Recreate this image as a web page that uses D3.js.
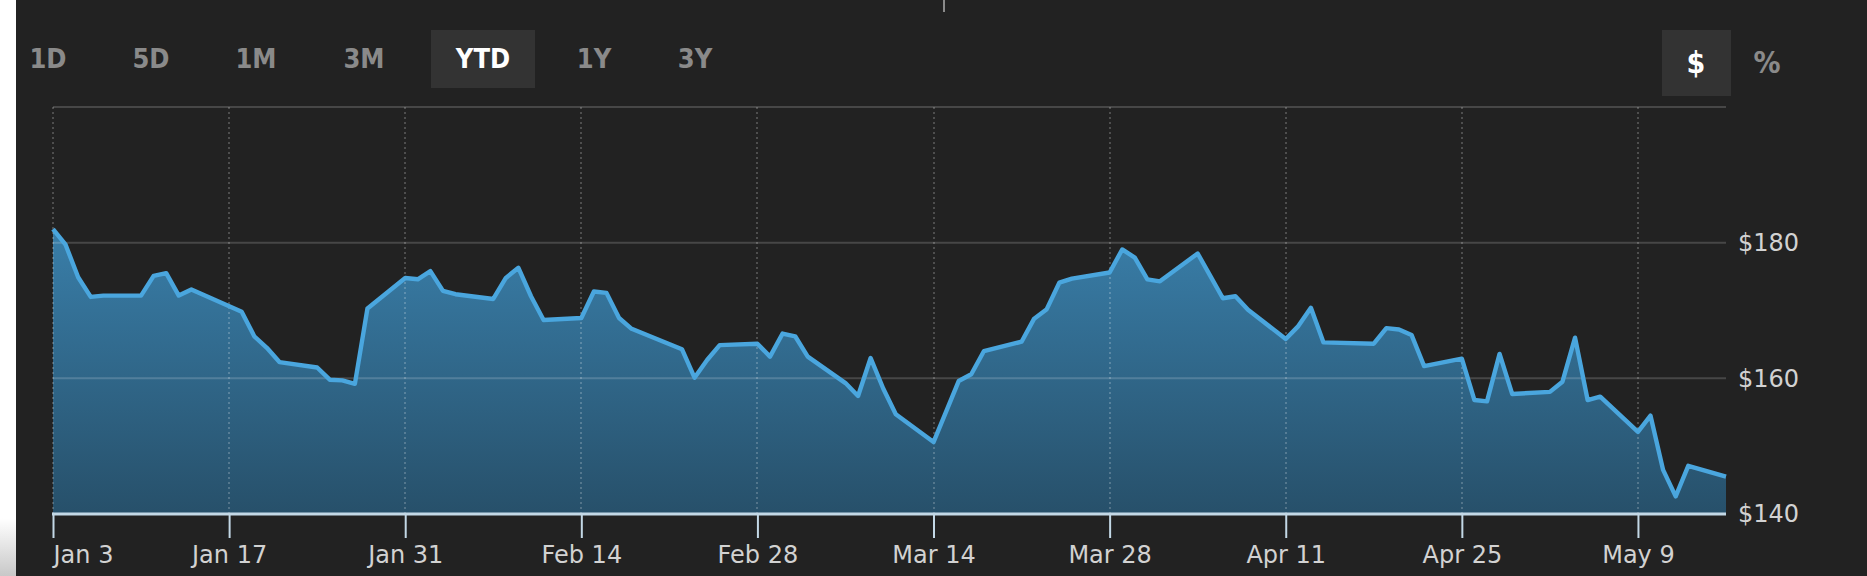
<!DOCTYPE html>
<html><head><meta charset="utf-8">
<script src="https://cdn.jsdelivr.net/npm/d3@7"></script>
<style>
html,body{margin:0;padding:0;background:#fff;}
svg{display:block;}
</style></head>
<body>
<svg id="chart" width="1867" height="576"></svg>
<script>
// ---- data ----
const dates = ["2022-01-03","2022-01-04","2022-01-05","2022-01-06","2022-01-07","2022-01-10","2022-01-11","2022-01-12","2022-01-13","2022-01-14",
"2022-01-18","2022-01-19","2022-01-20","2022-01-21","2022-01-24","2022-01-25","2022-01-26","2022-01-27","2022-01-28","2022-01-31",
"2022-02-01","2022-02-02","2022-02-03","2022-02-04","2022-02-07","2022-02-08","2022-02-09","2022-02-10","2022-02-11","2022-02-14",
"2022-02-15","2022-02-16","2022-02-17","2022-02-18","2022-02-22","2022-02-23","2022-02-24","2022-02-25","2022-02-28","2022-03-01",
"2022-03-02","2022-03-03","2022-03-04","2022-03-07","2022-03-08","2022-03-09","2022-03-10","2022-03-11","2022-03-14","2022-03-15",
"2022-03-16","2022-03-17","2022-03-18","2022-03-21","2022-03-22","2022-03-23","2022-03-24","2022-03-25","2022-03-28","2022-03-29",
"2022-03-30","2022-03-31","2022-04-01","2022-04-04","2022-04-05","2022-04-06","2022-04-07","2022-04-08","2022-04-11","2022-04-12",
"2022-04-13","2022-04-14","2022-04-18","2022-04-19","2022-04-20","2022-04-21","2022-04-22","2022-04-25","2022-04-26","2022-04-27",
"2022-04-28","2022-04-29","2022-05-02","2022-05-03","2022-05-04","2022-05-05","2022-05-06","2022-05-09","2022-05-10","2022-05-11",
"2022-05-12","2022-05-13","2022-05-16"];
const prices = [182.0,179.7,174.9,172.0,172.2,172.2,175.1,175.5,172.2,173.1,
169.8,166.2,164.5,162.4,161.6,159.8,159.7,159.2,170.3,174.8,
174.6,175.8,172.9,172.4,171.7,174.8,176.3,172.1,168.6,168.9,
172.8,172.6,168.9,167.3,164.3,160.1,162.7,164.9,165.1,163.2,
166.6,166.2,163.2,159.3,157.4,163.0,158.5,154.7,150.6,155.1,
159.6,160.6,164.0,165.4,168.8,170.2,174.1,174.7,175.6,179.0,
177.8,174.6,174.3,178.4,175.1,171.8,172.1,170.1,165.8,167.7,
170.4,165.3,165.1,167.4,167.2,166.4,161.8,162.9,156.8,156.6,
163.6,157.7,158.0,159.5,166.0,156.8,157.3,152.1,154.5,146.5,
142.6,147.1,145.5];
const xTickDates = ["2022-01-03","2022-01-17","2022-01-31","2022-02-14","2022-02-28","2022-03-14","2022-03-28","2022-04-11","2022-04-25","2022-05-09"];
const xTickLabels = ["Jan 3","Jan 17","Jan 31","Feb 14","Feb 28","Mar 14","Mar 28","Apr 11","Apr 25","May 9"];
const yTicks = [140,160,180,200];
const yTickLabels = ["$140","$160","$180",""];
const rangeButtons = ["1D","5D","1M","3M","YTD","1Y","3Y"];
const activeRange = "YTD";
const unitButtons = ["$","%"];
const activeUnit = "$";

(function(){
const svg = d3.select("#chart");
const W = 1867, H = 576;
const pL = 53, pR = 1726, pT = 107, pB = 514;
const parse = d3.utcParse("%Y-%m-%d");
const data = dates.map((d,i)=>({date:parse(d), v:prices[i]}));

const x = d3.scaleUtc().domain([parse("2022-01-03"), parse("2022-05-16")]).range([pL,pR]);
const y = d3.scaleLinear().domain([140,200]).range([pB,pT]);

const defs = svg.append("defs");
svg.append("rect").attr("x",0).attr("y",0).attr("width",W).attr("height",H).attr("fill","#fff");
const sh = defs.append("linearGradient").attr("id","shade").attr("x1",0).attr("y1",0).attr("x2",0).attr("y2",1);
sh.append("stop").attr("offset","0").attr("stop-color","#ffffff");
sh.append("stop").attr("offset","0.9").attr("stop-color","#ffffff");
sh.append("stop").attr("offset","1").attr("stop-color","#c8c8c8");
svg.append("rect").attr("x",0).attr("y",0).attr("width",16).attr("height",H).attr("fill","url(#shade)");
svg.append("rect").attr("x",16).attr("y",0).attr("width",W-16).attr("height",H).attr("fill","#222222");

svg.append("line").attr("x1",944).attr("x2",944).attr("y1",0).attr("y2",12)
  .attr("stroke","#8a8a8a").attr("stroke-width",2);

const btnCenters = [48,151,256,364,483,594,695];
rangeButtons.forEach((b,i)=>{
  if(b===activeRange){
    svg.append("rect").attr("x",431).attr("y",30).attr("width",104).attr("height",58).attr("fill","#333333");
  }
  svg.append("text").attr("x",btnCenters[i]).attr("y",68).attr("text-anchor","middle")
    .attr("font-family","'DejaVu Sans Condensed','DejaVu Sans',sans-serif")
    .attr("font-stretch","condensed")
    .attr("font-weight","bold").attr("font-size",27)
    .attr("fill", b===activeRange ? "#ffffff" : "#8a8a8a").text(b);
});
const unitCenters = [1696,1767];
unitButtons.forEach((b,i)=>{
  if(b===activeUnit){
    svg.append("rect").attr("x",1662).attr("y",30).attr("width",69).attr("height",66).attr("fill","#333333");
  }
  svg.append("text").attr("x",unitCenters[i]).attr("y",73).attr("text-anchor","middle")
    .attr("font-family","'DejaVu Sans Condensed','DejaVu Sans',sans-serif")
    .attr("font-stretch","condensed").attr("font-weight","bold").attr("font-size",30)
    .attr("fill", b===activeUnit ? "#ffffff" : "#8a8a8a").text(b);
});

const g = defs.append("linearGradient").attr("id","areaGrad").attr("gradientUnits","userSpaceOnUse")
  .attr("x1",0).attr("y1",pT).attr("x2",0).attr("y2",pB);
g.append("stop").attr("offset","0").attr("stop-color","#4192c4");
g.append("stop").attr("offset","1").attr("stop-color","#27506a");

const area = d3.area().x(d=>x(d.date)).y0(pB).y1(d=>y(d.v));
const line = d3.line().x(d=>x(d.date)).y(d=>y(d.v));

svg.append("path").datum(data).attr("d",area).attr("fill","url(#areaGrad)");

yTicks.filter(t=>t>140).forEach(t=>{
  svg.append("line").attr("x1",pL).attr("x2",pR).attr("y1",y(t)).attr("y2",y(t))
    .attr("stroke","#ffffff").attr("stroke-opacity",0.17).attr("stroke-width",2);
});
xTickDates.forEach(d=>{
  const xx = Math.round(x(parse(d)));
  svg.append("line").attr("x1",xx).attr("x2",xx).attr("y1",pT).attr("y2",pB)
    .attr("stroke","#ffffff").attr("stroke-opacity",0.2).attr("stroke-width",2)
    .attr("stroke-dasharray","2,3");
});

svg.append("path").datum(data).attr("d",line).attr("fill","none")
  .attr("stroke","#4aa6de").attr("stroke-width",4.4).attr("stroke-linejoin","round");

const xAxis = d3.axisBottom(x).tickValues(xTickDates.map(parse)).tickSize(24)
  .tickFormat((d,i)=>xTickLabels[i]);
const xg = svg.append("g").attr("transform",`translate(0,${pB})`).call(xAxis);
xg.select(".domain").remove();
xg.selectAll(".tick line").attr("stroke","#c3d8e6").attr("stroke-width",2);
xg.selectAll(".tick text").attr("fill","#d2d2d2").attr("font-size",24)
  .attr("font-family","'DejaVu Sans',sans-serif").attr("dy",0).attr("y",49)
  .attr("text-anchor",(d,i)=> i===0 ? "start" : "middle");
svg.append("line").attr("x1",pL-1).attr("x2",pR).attr("y1",pB).attr("y2",pB)
  .attr("stroke","#c3d8e6").attr("stroke-width",3);

const yAxis = d3.axisRight(y).tickValues(yTicks).tickSize(0).tickFormat((d,i)=>yTickLabels[i]);
const yg = svg.append("g").attr("transform",`translate(${pR},0)`).call(yAxis);
yg.select(".domain").remove();
yg.selectAll(".tick text").attr("x",12).attr("fill","#d2d2d2").attr("font-size",24)
  .attr("font-family","'DejaVu Sans',sans-serif");
})();
</script>
</body></html>
